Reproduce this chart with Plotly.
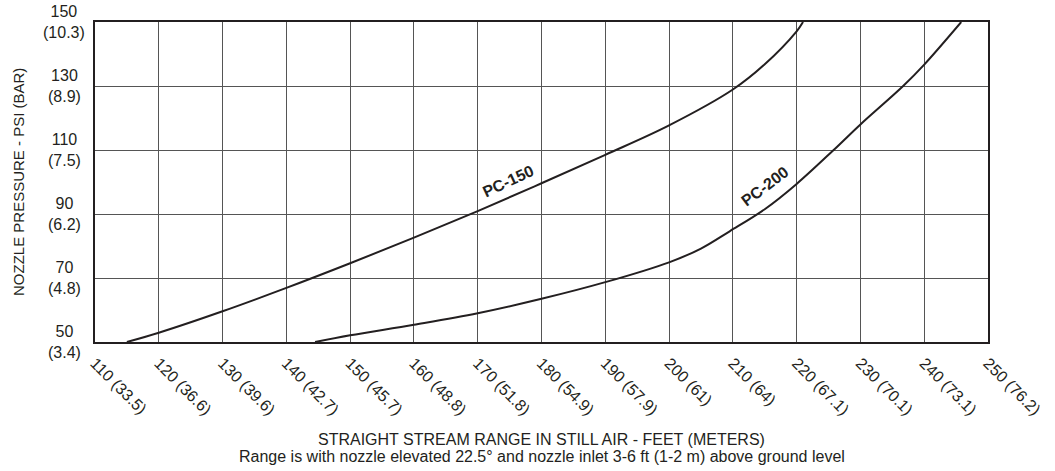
import plotly.graph_objects as go

# ---- data ----
x_ticks = [110, 120, 130, 140, 150, 160, 170, 180, 190, 200, 210, 220, 230, 240, 250]
x_tick_labels = ["110 (33.5)", "120 (36.6)", "130 (39.6)", "140 (42.7)", "150 (45.7)",
                 "160 (48.8)", "170 (51.8)", "180 (54.9)", "190 (57.9)", "200 (61)",
                 "210 (64)", "220 (67.1)", "230 (70.1)", "240 (73.1)", "250 (76.2)"]
y_ticks = [50, 70, 90, 110, 130, 150]
y_tick_labels = ["50<br>(3.4)", "70<br>(4.8)", "90<br>(6.2)", "110<br>(7.5)",
                 "130<br>(8.9)", "150<br>(10.3)"]

pc150_x = [115, 120, 130, 140, 150, 160, 170, 180, 190, 200, 210, 215, 220, 221]
pc150_y = [50, 52.9, 59.6, 66.9, 74.6, 82.6, 90.9, 99.6, 108.5, 117.7, 128.9, 136.8, 147.1, 150]

pc200_x = [144.5, 150, 160, 170, 180, 190, 200, 205, 209.5, 215, 220, 225.8, 230, 236.7, 240, 245.8]
pc200_y = [50, 52.1, 55.4, 59.0, 63.5, 68.7, 74.9, 79.2, 84.6, 91.5, 99.4, 110, 118, 130, 136.7, 150]

FONT = "Liberation Sans, Arial, sans-serif"
INK = "#231f20"

fig = go.Figure()
for xs, ys in [(pc150_x, pc150_y), (pc200_x, pc200_y)]:
    fig.add_trace(go.Scatter(x=xs, y=ys, mode="lines",
                             line=dict(color=INK, width=2, shape="spline", smoothing=1.0),
                             hoverinfo="skip", showlegend=False))

fig.update_layout(
    width=1055, height=471,
    margin=dict(l=95, r=67, t=22, b=129),
    paper_bgcolor="white", plot_bgcolor="white",
    font=dict(family=FONT, size=16, color=INK),
    showlegend=False,
)
fig.update_xaxes(range=[110, 250], tickmode="array", tickvals=x_ticks, ticktext=x_tick_labels,
                 tickangle=45, ticks="", showgrid=True, gridcolor="#555555", gridwidth=1,
                 showline=True, linecolor=INK, linewidth=1.5, mirror=True, zeroline=False,
                 automargin=False, ticklabelstandoff=4,
                 tickfont=dict(size=16, family=FONT, color=INK), fixedrange=True)
fig.update_yaxes(range=[50, 150], tickmode="array", tickvals=y_ticks, showticklabels=False,
                 ticks="", showgrid=True, gridcolor="#555555", gridwidth=1,
                 showline=True, linecolor=INK, linewidth=1.5, mirror=True, zeroline=False,
                 automargin=False, fixedrange=True)

# y tick labels centred (two lines)
for v, t in zip(y_ticks, y_tick_labels):
    fig.add_annotation(x=0, xref="paper", y=v, yref="y", text=t, showarrow=False,
                       xanchor="center", yanchor="middle", xshift=-31, align="center",
                       font=dict(size=16, family=FONT, color=INK))

fig.add_annotation(x=0, xref="paper", y=0.5, yref="paper", xshift=-77,
                   text="NOZZLE PRESSURE - PSI (BAR)", textangle=-90, showarrow=False,
                   xanchor="center", yanchor="middle", font=dict(size=15, family=FONT, color=INK))

fig.add_annotation(x=0.5, xref="paper", y=0, yref="paper", yshift=-97,
                   text="STRAIGHT STREAM RANGE IN STILL AIR - FEET (METERS)", showarrow=False,
                   xanchor="center", yanchor="middle", font=dict(size=16, family=FONT, color=INK))
fig.add_annotation(x=0.5, xref="paper", y=0, yref="paper", yshift=-114,
                   text="Range is with nozzle elevated 22.5° and nozzle inlet 3-6 ft (1-2 m) above ground level",
                   showarrow=False, xanchor="center", yanchor="middle",
                   font=dict(size=16, family=FONT, color=INK))

fig.add_annotation(x=174.7, y=100.2, text="<b>PC-150</b>", textangle=-25, showarrow=False,
                   xanchor="center", yanchor="middle", font=dict(size=16, family=FONT, color=INK))
fig.add_annotation(x=215.0, y=98.5, text="<b>PC-200</b>", textangle=-37, showarrow=False,
                   xanchor="center", yanchor="middle", font=dict(size=16, family=FONT, color=INK))

fig.write_html("out.html", config={"displayModeBar": False},
               post_script="document.body.style.margin='0';document.body.style.padding='0';")
